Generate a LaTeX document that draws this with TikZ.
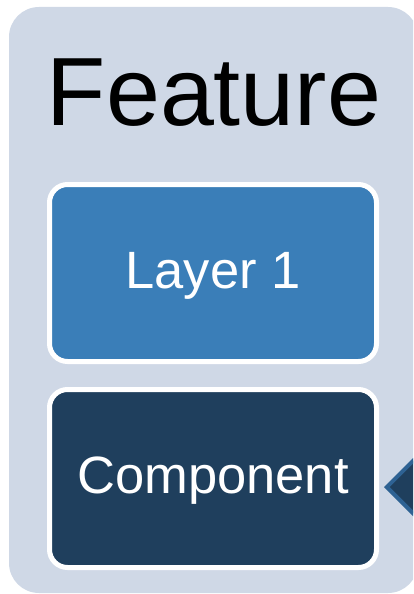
\documentclass[tikz,border=0pt]{standalone}
\usepackage{fontspec}
\setmainfont{Liberation Sans}
\usetikzlibrary{shapes.geometric}

\definecolor{panelgray}{HTML}{CFD8E6}
\definecolor{layerblue}{HTML}{3A7EB8}
\definecolor{compnavy}{HTML}{1F3F5D}
\definecolor{edgeblue}{HTML}{2E6293}

\tikzset{
  stackbox/.style = {draw = white, line width = 5pt, rounded corners = 18pt,
    minimum width = 327pt, inner sep = 0pt, text = white,
    font = \fontsize{52.5}{52.5}\selectfont, text height = 37pt, text depth = 7pt},
}

\begin{document}
\begin{tikzpicture}[x = 1pt, y = -1pt]
    \useasboundingbox (0, 0) rectangle (413, 594);
    \clip (0, 0) rectangle (413, 594);

    % background panel
    \fill[panelgray, rounded corners = 30pt] (9, 7) rectangle (418, 593);

    \node[anchor = base, font = \fontsize{97}{97}\selectfont]
      (title) at (214, 125) {Feature};

    \node[stackbox, fill = layerblue, minimum height = 177pt]
      (layer) at (213, 273) {Layer 1};
    \node[stackbox, fill = compnavy, minimum height = 178pt]
      (component) at (213, 478.5) {Component};

    % pointer on the right edge
    \node[diamond, aspect = 1, minimum size = 88pt, inner sep = 0pt,
      draw = edgeblue, line width = 4pt, fill = compnavy]
      (pointer) at (430, 487) {};
  \end{tikzpicture}
\end{document}
